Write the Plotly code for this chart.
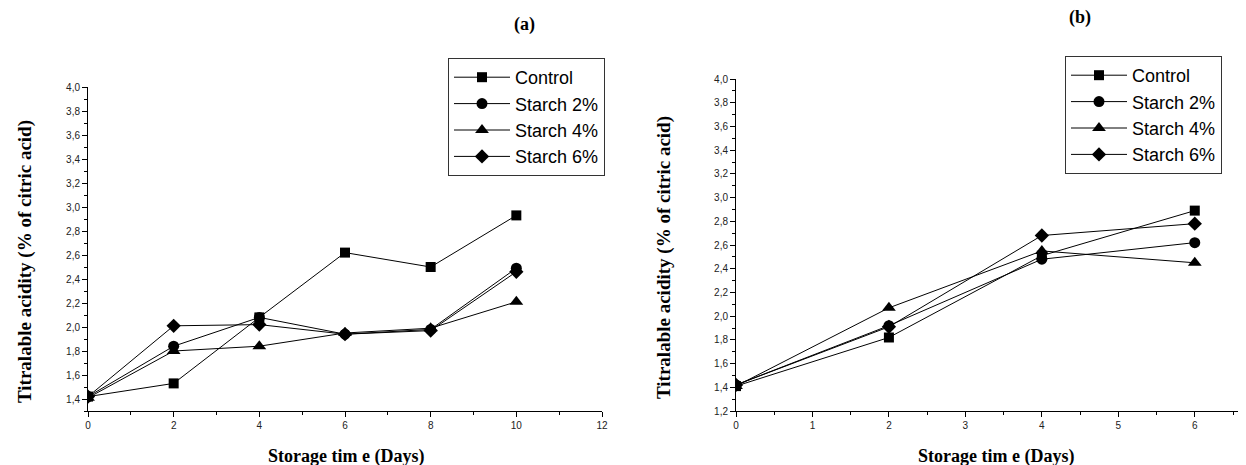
import plotly.graph_objects as go

series_names = ["Control", "Starch 2%", "Starch 4%", "Starch 6%"]
symbols = ["square", "circle", "triangle-up", "diamond"]
sizes = [10, 11, 12, 11]

days_a = [0, 2, 4, 6, 8, 10]
vals_a_control = [1.42, 1.53, 2.08, 2.62, 2.50, 2.93]
vals_a_s2 = [1.42, 1.84, 2.08, 1.94, 1.98, 2.49]
vals_a_s4 = [1.41, 1.80, 1.84, 1.95, 1.99, 2.21]
vals_a_s6 = [1.42, 2.01, 2.02, 1.94, 1.97, 2.46]

days_b = [0, 2, 4, 6]
vals_b_control = [1.41, 1.82, 2.51, 2.89]
vals_b_s2 = [1.42, 1.92, 2.48, 2.62]
vals_b_s4 = [1.41, 2.07, 2.55, 2.45]
vals_b_s6 = [1.42, 1.91, 2.68, 2.78]

fig = go.Figure()

for name, sym, sz, ys in zip(series_names, symbols, sizes,
                             [vals_a_control, vals_a_s2, vals_a_s4, vals_a_s6]):
    fig.add_trace(go.Scatter(x=days_a, y=ys, name=name, mode="lines+markers",
                             line=dict(color="black", width=1),
                             marker=dict(symbol=sym, size=sz, color="black"),
                             xaxis="x", yaxis="y", legend="legend"))

for name, sym, sz, ys in zip(series_names, symbols, sizes,
                             [vals_b_control, vals_b_s2, vals_b_s4, vals_b_s6]):
    fig.add_trace(go.Scatter(x=days_b, y=ys, name=name, mode="lines+markers",
                             line=dict(color="black", width=1),
                             marker=dict(symbol=sym, size=sz, color="black"),
                             xaxis="x2", yaxis="y2", legend="legend2"))

# page body has an 8px margin: the figure is placed at (8, 8)
OFF = 8
PAGE_W, PAGE_H = 1246, 465
W, H = PAGE_W - OFF, PAGE_H - OFF

def px(x):
    return (x - OFF) / W
def py(y):
    return (PAGE_H - y) / H

tickfont = dict(family="Liberation Sans, Arial", size=10, color="#222")
common = dict(showgrid=False, zeroline=False, showline=True, linecolor="black",
              linewidth=1, ticks="outside", ticklen=5, tickcolor="black",
              tickfont=tickfont, mirror=False, automargin=False)

legfont = dict(family="Liberation Sans, Arial", size=18, color="black")

fig.update_layout(
    width=W, height=H,
    margin=dict(l=0, r=0, t=0, b=0, autoexpand=False),
    paper_bgcolor="white", plot_bgcolor="white",
    separators=",.",
    xaxis=dict(domain=[px(88), px(602)], range=[0, 12], anchor="y",
               tickmode="linear", tick0=0, dtick=2,
               minor=dict(ticks="outside", dtick=1, ticklen=3, tickcolor="black"),
               **common),
    yaxis=dict(domain=[py(411), py(87)], range=[1.3, 4.0], anchor="x",
               tickmode="linear", tick0=1.4, dtick=0.2, tickformat=".1f",
               minor=dict(ticks="outside", dtick=0.1, tick0=1.3, ticklen=3, tickcolor="black"),
               **common),
    xaxis2=dict(domain=[px(736), 1.0], range=[0, 6.67], anchor="y2",
                tickmode="linear", tick0=0, dtick=1,
                minor=dict(ticks="outside", dtick=0.5, ticklen=3, tickcolor="black"),
                **common),
    yaxis2=dict(domain=[py(411), py(79)], range=[1.2, 4.0], anchor="x2",
                tickmode="linear", tick0=1.2, dtick=0.2, tickformat=".1f",
                minor=dict(ticks="outside", dtick=0.1, tick0=1.2, ticklen=3, tickcolor="black"),
                **common),
    legend=dict(x=px(448), y=py(58), xanchor="left", yanchor="top",
                bgcolor="white", bordercolor="#333", borderwidth=1,
                font=legfont, itemwidth=56, tracegroupgap=2),
    legend2=dict(x=px(1065), y=py(56), xanchor="left", yanchor="top",
                 bgcolor="white", bordercolor="#333", borderwidth=1,
                 font=legfont, itemwidth=56, tracegroupgap=2),
    showlegend=True,
)

serif = "Liberation Serif, Times New Roman"
titlefont = dict(family=serif, size=18, color="black")
ytitlefont = dict(family=serif, size=19, color="black")
ann = [
    dict(text="<b>(a)</b>", x=px(524), y=py(25), font=dict(family=serif, size=18, color="black")),
    dict(text="<b>(b)</b>", x=px(1080), y=py(17), font=dict(family=serif, size=18, color="black")),
    dict(text="<b>Storage tim e (Days)</b>", x=px(346), y=py(456), font=titlefont),
    dict(text="<b>Storage tim e (Days)</b>", x=px(996), y=py(456), font=titlefont),
    dict(text="<b>Titralable acidity (% of citric acid)</b>", x=px(25), y=py(262), textangle=-90,
         font=ytitlefont),
    dict(text="<b>Titralable acidity (% of citric acid)</b>", x=px(664), y=py(258), textangle=-90,
         font=ytitlefont),
]
for a in ann:
    a.update(xref="paper", yref="paper", showarrow=False, xanchor="center", yanchor="middle")
fig.update_layout(annotations=ann)

fig.write_html("out.html")
